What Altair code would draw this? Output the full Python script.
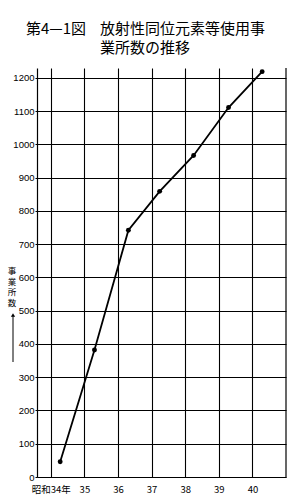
import altair as alt
import pandas as pd

# Data
years = [34.28, 35.30, 36.31, 37.24, 38.25, 39.29, 40.29]
counts = [46, 382, 742, 859, 967, 1111, 1219]
x_ticks = [34, 35, 36, 37, 38, 39, 40]
y_ticks = list(range(0, 1300, 100))
title_head = "第4—1図"
title_line1 = "放射性同位元素等使用事"
title_line2 = "業所数の推移"
y_title = "事\n業\n所\n数"

df = pd.DataFrame({"year": years, "count": counts})

W, H = 249, 409
JP = "Noto Sans CJK JP"
NUM = "Liberation Sans"

x_enc = alt.X(
    "year:Q",
    scale=alt.Scale(domain=[33.59, 41], nice=False, zero=False),
    axis=alt.Axis(
        values=x_ticks, title=None, grid=True, labelOverlap=False,
        labelExpr="datum.value == 34 ? '昭和34年' : datum.label",
        tickSize=0, labelPadding=7, labelFontSize=9.5, labelFont=JP,
        labelColor="black", domainColor="black", domainWidth=1.2,
        gridColor="black", gridWidth=1.1, gridOpacity=1,
    ),
)
y_enc = alt.Y(
    "count:Q",
    scale=alt.Scale(domain=[0, 1230], nice=False, zero=True),
    axis=alt.Axis(
        values=y_ticks, title=None, grid=True, format="d", labelOverlap=False,
        tickSize=2, tickColor="black", labelPadding=1, labelFontSize=9.5,
        labelFont=NUM, labelColor="black", domainColor="black", domainWidth=1.2,
        gridColor="black", gridWidth=1.1, gridOpacity=1,
    ),
)

base = alt.Chart(df)
line = base.mark_line(color="black", strokeWidth=1.8).encode(x=x_enc, y=y_enc)
pts = base.mark_point(filled=True, color="black", size=24, opacity=1).encode(
    x=x_enc, y=y_enc
)

one = pd.DataFrame({"a": [0]})

right_border = alt.Chart(one).mark_rule(color="black", strokeWidth=1.2).encode(
    x=alt.value(W), y=alt.value(0), y2=alt.value(H)
)

t0 = alt.Chart(pd.DataFrame({"t": [title_head]})).mark_text(
    align="left", baseline="middle", fontSize=15, font=JP, color="black"
).encode(x=alt.value(-11), y=alt.value(-39), text="t:N")
t1 = alt.Chart(pd.DataFrame({"t": [title_line1]})).mark_text(
    align="left", baseline="middle", fontSize=15, font=JP, color="black"
).encode(x=alt.value(63), y=alt.value(-39), text="t:N")
t2 = alt.Chart(pd.DataFrame({"t": [title_line2]})).mark_text(
    align="left", baseline="middle", fontSize=15, font=JP, color="black"
).encode(x=alt.value(63), y=alt.value(-20), text="t:N")

ytitle = alt.Chart(pd.DataFrame({"t": [y_title]})).mark_text(
    align="center", baseline="top", fontSize=8.5, lineHeight=10.5, font=JP,
    color="black", lineBreak="\n"
).encode(x=alt.value(-25), y=alt.value(199), text="t:N")

arrow_shaft = alt.Chart(one).mark_rule(color="black", strokeWidth=1).encode(
    x=alt.value(-24), y=alt.value(248), y2=alt.value(294)
)
arrow_head = alt.Chart(one).mark_point(
    shape="triangle-up", filled=True, color="black", size=18, opacity=1
).encode(x=alt.value(-24), y=alt.value(247))

chart = alt.layer(
    line, pts, right_border, t0, t1, t2, ytitle, arrow_shaft, arrow_head
).properties(
    width=W, height=H,
    autosize=alt.AutoSizeParams(type="none"),
    padding={"left": 37, "top": 68, "right": 13, "bottom": 21},
    background="white",
).configure_view(stroke=None)

chart.save("out.html", embed_options={"renderer": "svg", "actions": False})
